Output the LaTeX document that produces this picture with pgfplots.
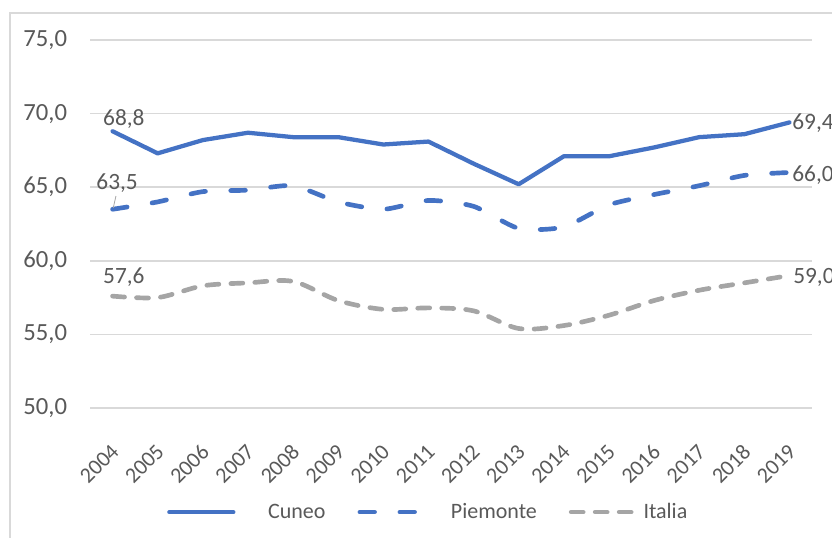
\documentclass[border=0pt]{standalone}
\usepackage{pgfplots}
\pgfplotsset{compat=1.18}
\usepackage{fontspec}
\setmainfont{Carlito}
\definecolor{cblue}{HTML}{4472C4}
\definecolor{cgray}{HTML}{A5A5A5}
\definecolor{gridc}{HTML}{D9D9D9}
\definecolor{txt}{HTML}{595959}
\begin{document}
\begin{tikzpicture}
\path[use as bounding box] (0,0) rectangle (624pt,403.5pt);
\draw[gridc, line width=1.5pt] (7.5pt,-5pt) -- (7.5pt,393.75pt) -- (640pt,393.75pt);
\begin{axis}[
  at={(67.5pt,97.5pt)}, anchor=south west,
  scale only axis, width=541.5pt, height=276pt,
  xmin=-0.5, xmax=15.5, ymin=50, ymax=75,
  axis line style={draw=none}, tick style={draw=none},
  ymajorgrids, grid style={gridc, line width=1.3pt},
  ytick={50,55,60,65,70,75},
  xtick={0,...,15},
  xticklabels={2004,2005,2006,2007,2008,2009,2010,2011,2012,2013,2014,2015,2016,2017,2018,2019},
  /pgf/number format/.cd, fixed, fixed zerofill, precision=1, use comma, assume math mode=true,
  /pgfplots/.cd,
  yticklabel style={font=\fontsize{18.5}{22}\selectfont, text=txt, anchor=east, inner sep=0pt, xshift=-17pt},
  xticklabel style={font=\fontsize{16.5}{20}\selectfont, text=txt, xshift=2pt, yshift=-30pt, rotate=45, anchor=east, inner sep=0pt},
  clip=false,
  legend style={at={(0.469,-0.283)}, anchor=center, draw=none, fill=none,
    legend columns=3, font=\fontsize{16.5}{20}\selectfont, text=txt,
    /tikz/every odd column/.append style={column sep=0pt},
    /tikz/every even column/.append style={column sep=22pt}},
  legend image code/.code={\draw[#1] (0pt,0pt) -- (48pt,0pt);},
]
\addplot[cblue, line width=3.2pt, line join=round, line cap=round] coordinates {
(0,68.8) (1,67.3) (2,68.2) (3,68.7) (4,68.4) (5,68.4) (6,67.9) (7,68.1)
(8,66.6) (9,65.2) (10,67.1) (11,67.1) (12,67.7) (13,68.4) (14,68.6) (15,69.4)};
\addlegendentry{\hspace*{22.5pt}Cuneo}
\addplot[cblue, line width=3.5pt, line cap=round, dash pattern=on 11pt off 19pt, smooth, tension=0.4] coordinates {
(0,63.5) (1,64.0) (2,64.7) (3,64.8) (4,65.1) (5,64.0) (6,63.5) (7,64.1)
(8,63.7) (9,62.2) (10,62.3) (11,63.8) (12,64.5) (13,65.1) (14,65.8) (15,66.0)};
\addlegendentry{\hspace*{16.5pt}Piemonte}
\addplot[cgray, line width=3.5pt, line cap=round, dash pattern=on 9pt off 9pt, smooth, tension=0.5] coordinates {
(0,57.6) (1,57.5) (2,58.3) (3,58.5) (4,58.6) (5,57.3) (6,56.7) (7,56.8)
(8,56.6) (9,55.4) (10,55.6) (11,56.3) (12,57.3) (13,58.0) (14,58.5) (15,59.0)};
\addlegendentry{\hspace*{2.5pt}Italia}
\begin{scope}[every node/.style={text=txt, font=\fontsize{17.5}{21}\selectfont, inner sep=0pt}]
\node[anchor=center] at (axis cs:0.25,69.63) {68,8};
\node[anchor=center] at (axis cs:0.1,65.29) {63,5};
\draw[cgray, line width=0.6pt] (axis cs:0.016,63.6) -- (axis cs:0.075,64.4);
\node[anchor=center] at (axis cs:0.25,58.9) {57,6};
\node[anchor=west] at (axis cs:15.06,69.36) {69,4};
\node[anchor=west] at (axis cs:15.06,65.83) {66,0};
\node[anchor=west] at (axis cs:15.08,58.9) {59,0};
\end{scope}
\end{axis}
\end{tikzpicture}
\end{document}
